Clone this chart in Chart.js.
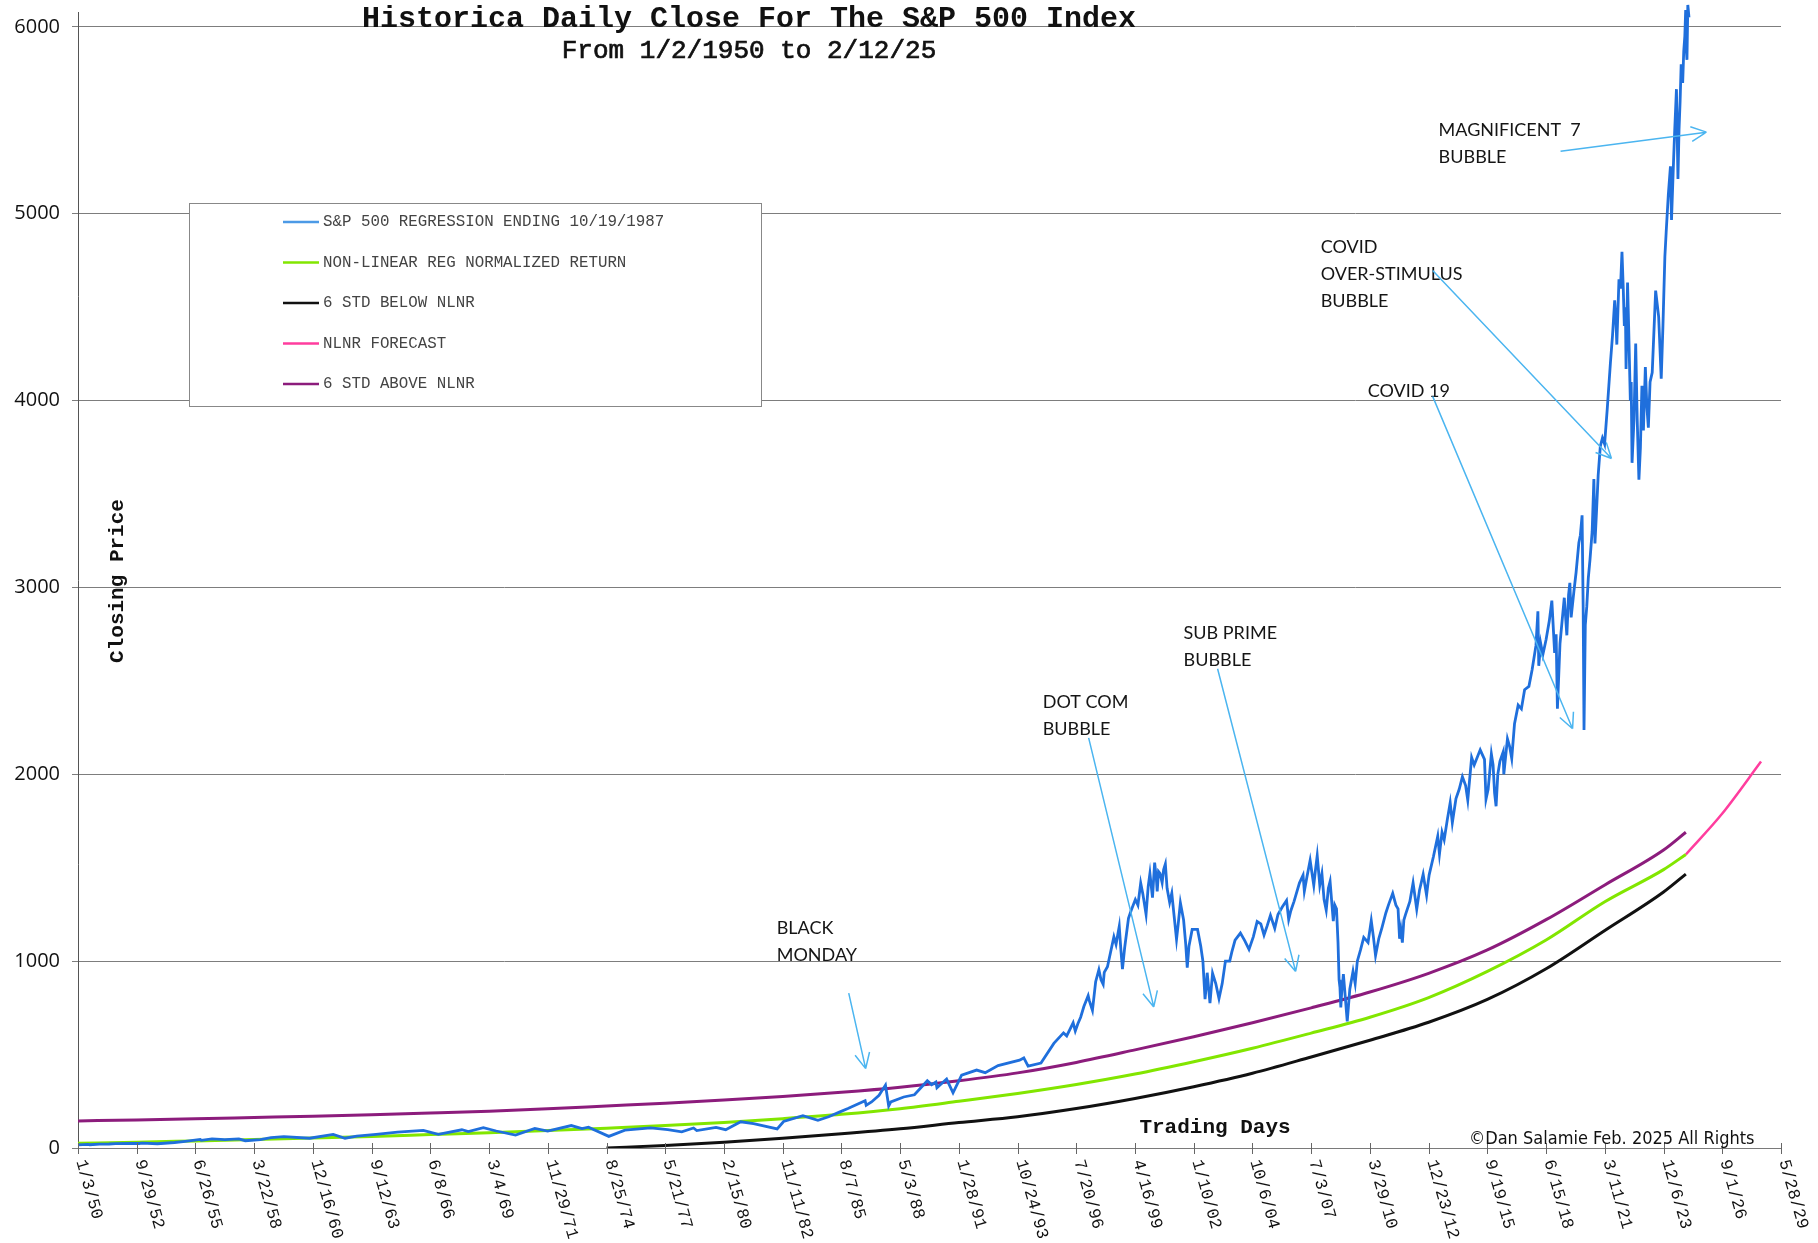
<!DOCTYPE html>
<html>
<head>
<meta charset="utf-8">
<script src="https://cdn.jsdelivr.net/npm/chart.js@4.4.1/dist/chart.umd.min.js"></script>
<style>
  html, body { margin: 0; padding: 0; background: #fff; }
  #wrap { position: relative; width: 1818px; height: 1243px; }
</style>
</head>
<body>
<div id="wrap"><canvas id="chart"></canvas></div>
<script>
// ============ DATA ============

// x axis is trading days; one tick every 690 trading days
const DAYS_PER_TICK = 690;
const DAYS_PER_YEAR = 252;

const tickLabels = ['1/3/50', '9/29/52', '6/26/55', '3/22/58', '12/16/60', '9/12/63', '6/8/66', '3/4/69',
    '11/29/71', '8/25/74', '5/21/77', '2/15/80', '11/11/82', '8/7/85', '5/3/88', '1/28/91', '10/24/93',
    '7/20/96', '4/16/99', '1/10/02', '10/6/04', '7/3/07', '3/29/10', '12/23/12', '9/19/15', '6/15/18',
    '3/11/21', '12/6/23', '9/1/26', '5/28/29'];

const yTicks = [0, 1000, 2000, 3000, 4000, 5000, 6000];

// S&P 500 close (decimal year, close)
const spxYear = [1950.00, 1950.45, 1950.55, 1951.00, 1951.45, 1951.75, 1952.50, 1952.85, 1953.00, 1953.70,
    1954.50, 1955.00, 1955.70, 1955.75, 1956.25, 1956.85, 1957.50, 1957.80, 1958.50, 1959.00, 1959.60,
    1960.80, 1961.90, 1962.45, 1963.00, 1963.90, 1964.90, 1966.10, 1966.80, 1967.90, 1968.20, 1968.90,
    1969.50, 1970.40, 1971.30, 1971.90, 1973.00, 1973.50, 1973.80, 1974.75, 1975.50, 1976.70, 1977.50,
    1978.15, 1978.70, 1978.85, 1979.75, 1980.20, 1980.90, 1981.50, 1982.60, 1982.90, 1983.80, 1984.50,
    1985.00, 1985.50, 1985.90, 1986.70, 1986.75, 1987.00, 1987.35, 1987.65, 1987.80, 1987.90, 1988.50,
    1989.00, 1989.60, 1989.80, 1990.00, 1990.05, 1990.50, 1990.80, 1991.20, 1991.90, 1992.30, 1992.90,
    1993.90, 1994.10, 1994.30, 1994.90, 1995.50, 1995.95, 1996.10, 1996.40, 1996.50, 1996.62, 1996.75,
    1996.90, 1997.10, 1997.15, 1997.30, 1997.45, 1997.60, 1997.70, 1997.80, 1997.85, 1998.00, 1998.15,
    1998.30, 1998.40, 1998.55, 1998.62, 1998.70, 1998.80, 1998.98, 1999.10, 1999.30, 1999.42, 1999.55,
    1999.65, 1999.80, 1999.90, 1999.98, 2000.10, 2000.20, 2000.28, 2000.32, 2000.38, 2000.45, 2000.55,
    2000.62, 2000.70, 2000.78, 2000.90, 2001.00, 2001.10, 2001.22, 2001.30, 2001.40, 2001.55, 2001.65,
    2001.72, 2001.80, 2001.95, 2002.20, 2002.35, 2002.45, 2002.55, 2002.60, 2002.65, 2002.78, 2002.90,
    2003.05, 2003.20, 2003.35, 2003.50, 2003.70, 2003.80, 2003.95, 2004.20, 2004.40, 2004.60, 2004.80,
    2004.98, 2005.15, 2005.30, 2005.45, 2005.60, 2005.80, 2005.95, 2006.15, 2006.35, 2006.45, 2006.55,
    2006.70, 2006.95, 2007.12, 2007.18, 2007.30, 2007.45, 2007.62, 2007.70, 2007.78, 2007.90, 2008.00,
    2008.10, 2008.20, 2008.30, 2008.38, 2008.53, 2008.60, 2008.68, 2008.75, 2008.80, 2008.84, 2008.88,
    2008.93, 2008.98, 2009.00, 2009.08, 2009.18, 2009.30, 2009.45, 2009.55, 2009.65, 2009.80, 2009.95,
    2010.15, 2010.30, 2010.40, 2010.50, 2010.65, 2010.80, 2010.98, 2011.10, 2011.30, 2011.45, 2011.55,
    2011.62, 2011.68, 2011.75, 2011.82, 2011.90, 2012.10, 2012.25, 2012.42, 2012.55, 2012.72, 2012.88,
    2012.95, 2013.00, 2013.20, 2013.40, 2013.48, 2013.60, 2013.70, 2013.85, 2013.98, 2014.08, 2014.25,
    2014.40, 2014.55, 2014.70, 2014.80, 2014.98, 2015.10, 2015.38, 2015.50, 2015.58, 2015.65, 2015.75,
    2015.90, 2015.98, 2016.05, 2016.12, 2016.20, 2016.30, 2016.45, 2016.48, 2016.65, 2016.75, 2016.85,
    2016.98, 2017.15, 2017.30, 2017.45, 2017.65, 2017.80, 2017.98, 2018.07, 2018.11, 2018.20, 2018.30,
    2018.45, 2018.60, 2018.72, 2018.85, 2018.92, 2018.98, 2019.10, 2019.30, 2019.42, 2019.50, 2019.56,
    2019.62, 2019.75, 2019.85, 2019.98, 2020.05, 2020.13, 2020.18, 2020.22, 2020.28, 2020.35, 2020.42,
    2020.50, 2020.60, 2020.68, 2020.73, 2020.80, 2020.88, 2020.98, 2021.08, 2021.18, 2021.30, 2021.45,
    2021.55, 2021.65, 2021.70, 2021.75, 2021.85, 2021.92, 2021.99, 2022.05, 2022.10, 2022.15, 2022.18,
    2022.25, 2022.30, 2022.38, 2022.42, 2022.46, 2022.55, 2022.63, 2022.70, 2022.78, 2022.85, 2022.92,
    2022.99, 2023.08, 2023.15, 2023.22, 2023.30, 2023.40, 2023.56, 2023.70, 2023.82, 2023.90, 2023.99,
    2024.05, 2024.15, 2024.25, 2024.30, 2024.40, 2024.45, 2024.53, 2024.60, 2024.65, 2024.70, 2024.75,
    2024.82, 2024.87, 2024.92, 2024.96, 2024.99, 2025.02, 2025.06, 2025.115];

const spxClose = [16.7, 19.4, 17.4, 21.0, 21.3, 23.3, 25.0, 24.2, 26.5, 22.7,
    29.5, 35.7, 45.6, 40.8, 48.5, 45.0, 49.1, 39.0, 45.0, 55.2, 60.7,
    52.3, 72.6, 52.3, 63.1, 72.6, 84.8, 94.1, 73.2, 97.6, 87.7, 108.4,
    91.0, 69.3, 104.6, 90.2, 120.2, 104.3, 111.4, 62.3, 95.2, 107.8, 98.0,
    86.9, 106.9, 93.0, 110.0, 98.2, 140.5, 130.0, 102.4, 142.0, 172.6, 147.8,
    167.0, 192.0, 211.3, 252.9, 229.0, 246.5, 282.0, 336.8, 224.8, 247.0, 273.0,
    285.0, 359.8, 339.0, 353.4, 322.0, 368.9, 295.5, 390.0, 417.1, 403.0, 441.0,
    470.0, 482.0, 438.0, 455.0, 560.0, 615.9, 600.0, 670.0, 626.0, 665.0, 700.0,
    757.0, 815.0, 790.0, 737.0, 890.0, 954.0, 900.0, 876.0, 940.0, 970.0, 1050.0,
    1130.0, 1090.0, 1186.0, 1070.0, 957.0, 1070.0, 1229.0, 1270.0, 1330.0, 1300.0, 1418.0,
    1360.0, 1250.0, 1400.0, 1469.0, 1340.0, 1527.0, 1440.0, 1373.0, 1480.0, 1470.0, 1420.0,
    1490.0, 1520.0, 1390.0, 1315.0, 1364.0, 1250.0, 1117.0, 1200.0, 1312.0, 1220.0, 1090.0,
    965.0, 1080.0, 1170.0, 1170.0, 1080.0, 1000.0, 797.0, 860.0, 938.0, 776.0, 935.0,
    880.0, 800.0, 880.0, 1000.0, 1000.0, 1050.0, 1112.0, 1150.0, 1110.0, 1063.0, 1130.0,
    1212.0, 1200.0, 1140.0, 1190.0, 1245.0, 1176.0, 1250.0, 1290.0, 1325.0, 1223.0, 1270.0,
    1320.0, 1418.0, 1460.0, 1374.0, 1450.0, 1539.0, 1406.0, 1490.0, 1565.0, 1407.0, 1468.0,
    1330.0, 1273.0, 1390.0, 1426.0, 1214.0, 1300.0, 1280.0, 1100.0, 900.0, 860.0, 752.0,
    850.0, 903.0, 931.0, 820.0, 677.0, 850.0, 946.0, 880.0, 1000.0, 1060.0, 1127.0,
    1100.0, 1217.0, 1130.0, 1030.0, 1120.0, 1180.0, 1258.0, 1300.0, 1363.0, 1300.0, 1280.0,
    1120.0, 1170.0, 1099.0, 1220.0, 1250.0, 1320.0, 1419.0, 1278.0, 1380.0, 1465.0, 1353.0,
    1420.0, 1462.0, 1560.0, 1669.0, 1573.0, 1690.0, 1650.0, 1760.0, 1848.0, 1741.0, 1870.0,
    1920.0, 1987.0, 1940.0, 1862.0, 2090.0, 2050.0, 2131.0, 2100.0, 2080.0, 1867.0, 1920.0,
    2109.0, 2050.0, 1900.0, 1829.0, 2000.0, 2070.0, 2120.0, 2000.0, 2190.0, 2150.0, 2085.0,
    2271.0, 2370.0, 2350.0, 2453.0, 2470.0, 2560.0, 2690.0, 2872.0, 2581.0, 2700.0, 2640.0,
    2720.0, 2820.0, 2930.0, 2650.0, 2750.0, 2351.0, 2700.0, 2945.0, 2744.0, 2960.0, 3025.0,
    2840.0, 2980.0, 3080.0, 3240.0, 3280.0, 3386.0, 2900.0, 2237.0, 2800.0, 2900.0, 3050.0,
    3150.0, 3300.0, 3580.0, 3236.0, 3400.0, 3600.0, 3756.0, 3800.0, 3768.0, 3950.0, 4200.0,
    4350.0, 4537.0, 4450.0, 4300.0, 4650.0, 4600.0, 4797.0, 4600.0, 4400.0, 4500.0, 4170.0,
    4632.0, 4400.0, 4000.0, 4100.0, 3667.0, 3900.0, 4305.0, 3900.0, 3577.0, 3750.0, 4080.0,
    3840.0, 4180.0, 3970.0, 3855.0, 4100.0, 4150.0, 4589.0, 4450.0, 4117.0, 4400.0, 4770.0,
    4900.0, 5100.0, 5254.0, 4967.0, 5300.0, 5450.0, 5667.0, 5186.0, 5450.0, 5600.0, 5800.0,
    5700.0, 5870.0, 5950.0, 6090.0, 5880.0, 5824.0, 6118.0, 6051.0];

// regression bands, read at tick positions
const bandTick = [0, 1, 2, 3, 4, 5, 6, 7, 8, 9, 10, 11, 12, 13, 14, 15, 16, 17, 18, 19, 20,
    21, 22, 23, 24, 25, 26, 27, 27.38];
const nlnrUpper = [145, 150, 156, 163, 170, 178, 187, 197, 210, 225, 240, 257, 276, 298, 325, 360,
    402, 458, 525, 595, 670, 750, 835, 935, 1060, 1222, 1408, 1595, 1690];
const nlnrMid = [25, 31, 38, 45, 53, 62, 72, 82, 93, 106, 120, 137, 157, 180, 210, 250,
    292, 340, 396, 462, 534, 615, 700, 805, 945, 1113, 1318, 1490, 1571];

const lowerTick = [9, 10, 11, 12, 13, 14, 15, 16, 17, 18, 19, 20, 21, 22, 23, 24, 25, 26, 27, 27.38];
const nlnrLower = [0, 14, 31, 52, 76, 103, 136, 167, 211, 265, 328, 400, 487, 577, 673, 795,
    959, 1164, 1370, 1466];

const forecastTick = [27.38, 28.0, 28.66];
const forecastVals = [1571, 1790, 2068];

// annotations: text lines, anchor (trading day, close), arrow tail / head
const noteLines = [['MAGNIFICENT  7', 'BUBBLE'], ['COVID', 'OVER-STIMULUS', 'BUBBLE'], ['COVID 19'],
    ['SUB PRIME', 'BUBBLE'], ['DOT COM', 'BUBBLE'], ['BLACK', 'MONDAY']];
const noteAt = [[15987, 5447], [14601, 4821], [15153, 4050], [12990, 2755], [11335, 2385], [8210, 1177]];
const arrowFrom = [[17420, 5335], [15917, 4697], [15917, 4023], [13390, 2565], [11875, 2195], [9056, 829]];
const arrowTo = [[19134, 5437], [18018, 3690], [17561, 2244], [14307, 945], [12640, 755], [9255, 425]];

// ============ CHART ============

const MONO = '"Liberation Mono", "DejaVu Sans Mono", monospace';
const NOTE_FONT = '18px Lato, "Open Sans", sans-serif';

const toPoints = (xs, ys, scale) => xs.map((x, i) => ({ x: x * scale, y: ys[i] }));

const spxPoints = spxYear.map((yr, i) => ({ x: (yr - 1950) * DAYS_PER_YEAR, y: spxClose[i] }));

const overlay = {
    id: 'overlay',
    afterDatasetsDraw(chart) {
        drawLegendBox(chart);
        drawNotes(chart);
    },
    afterDraw(chart) {
        drawXLabels(chart);
        drawTexts(chart);
    }
};

new Chart(document.getElementById('chart'), {
    type: 'line',
    data: {
        datasets: [{
            label: 'S&P 500 REGRESSION ENDING 10/19/1987',
            data: spxPoints,
            borderColor: '#1f6fdc',
            legendColor: '#4c9ae6',
            borderWidth: 2.8,
            tension: 0,
            clip: false,
        }, {
            label: 'NON-LINEAR REG NORMALIZED RETURN',
            data: toPoints(bandTick, nlnrMid, DAYS_PER_TICK),
            borderColor: '#82e600',
            borderWidth: 3,
            cubicInterpolationMode: 'monotone',
        }, {
            label: '6 STD BELOW NLNR',
            data: toPoints(lowerTick, nlnrLower, DAYS_PER_TICK),
            borderColor: '#111111',
            borderWidth: 3,
            cubicInterpolationMode: 'monotone',
        }, {
            label: 'NLNR FORECAST',
            data: toPoints(forecastTick, forecastVals, DAYS_PER_TICK),
            borderColor: '#ff3d9e',
            borderWidth: 2.5,
            cubicInterpolationMode: 'monotone',
        }, {
            label: '6 STD ABOVE NLNR',
            data: toPoints(bandTick, nlnrUpper, DAYS_PER_TICK),
            borderColor: '#8c1c7c',
            borderWidth: 3,
            cubicInterpolationMode: 'monotone',
        }]
    },
    options: {
        responsive: true,
        maintainAspectRatio: false,
        animation: false,
        layout: { padding: { top: 12, right: 37, left: 0, bottom: 0 } },
        elements: { point: { radius: 0 } },
        plugins: {
            legend: { display: false },
            tooltip: { enabled: false }
        },
        scales: {
            x: {
                type: 'linear',
                min: 0,
                max: 29 * DAYS_PER_TICK,
                afterBuildTicks: s => { s.ticks = tickLabels.map((_, i) => ({ value: i * DAYS_PER_TICK })); },
                afterFit: s => { s.height = 95; },
                ticks: { display: false },
                grid: { display: false },
                border: { color: '#7a7a7a', width: 1 }
            },
            y: {
                min: 0,
                max: 6080,
                afterBuildTicks: s => { s.ticks = yTicks.map(v => ({ value: v })); },
                afterFit: s => {
                    s.width = 78;
                    s.paddingTop = 0;
                    s.paddingBottom = 0;
                },
                ticks: {
                    font: { family: '"Open Sans", sans-serif', size: 20 },
                    color: '#111',
                    padding: 12,
                    callback: v => String(v)
                },
                grid: { color: '#7d7d7d', lineWidth: 1, tickLength: 6 },
                border: { color: '#555', width: 1 }
            }
        }
    },
    plugins: [overlay]
});

// ============ HELPERS ============

function drawLegendBox(chart) {
    const ctx = chart.ctx;
    const box = { x: 189, y: 203, w: 572, h: 203 };
    ctx.save();
    ctx.fillStyle = '#fff';
    ctx.fillRect(box.x, box.y, box.w, box.h);
    ctx.strokeStyle = '#888';
    ctx.lineWidth = 1;
    ctx.strokeRect(box.x + 0.5, box.y + 0.5, box.w, box.h);

    ctx.font = '15.8px ' + MONO;
    ctx.textBaseline = 'middle';
    ctx.textAlign = 'left';
    chart.data.datasets.forEach((ds, i) => {
        const y = 222 + i * 40.5;
        ctx.strokeStyle = ds.legendColor || ds.borderColor;
        ctx.lineWidth = 2.5;
        ctx.beginPath();
        ctx.moveTo(283, y);
        ctx.lineTo(319, y);
        ctx.stroke();
        ctx.fillStyle = '#444';
        ctx.fillText(ds.label, 323, y);
    });
    ctx.restore();
}

function drawNotes(chart) {
    const ctx = chart.ctx;
    const xs = chart.scales.x, ys = chart.scales.y;
    ctx.save();
    ctx.font = NOTE_FONT;
    ctx.fillStyle = '#151515';
    ctx.textBaseline = 'middle';
    ctx.textAlign = 'left';
    noteLines.forEach((lines, i) => {
        const x = xs.getPixelForValue(noteAt[i][0]);
        const y = ys.getPixelForValue(noteAt[i][1]);
        lines.forEach((t, j) => ctx.fillText(t, x, y + j * 27));
    });

    ctx.strokeStyle = '#4bb5f0';
    ctx.lineWidth = 1.5;
    arrowFrom.forEach((f, i) => {
        const x1 = xs.getPixelForValue(f[0]), y1 = ys.getPixelForValue(f[1]);
        const x2 = xs.getPixelForValue(arrowTo[i][0]), y2 = ys.getPixelForValue(arrowTo[i][1]);
        const a = Math.atan2(y2 - y1, x2 - x1);
        ctx.beginPath();
        ctx.moveTo(x1, y1);
        ctx.lineTo(x2, y2);
        for (const d of [0.45, -0.45]) {
            ctx.moveTo(x2, y2);
            ctx.lineTo(x2 - 17 * Math.cos(a + d), y2 - 17 * Math.sin(a + d));
        }
        ctx.stroke();
    });
    ctx.restore();
}

function drawXLabels(chart) {
    const ctx = chart.ctx;
    const xs = chart.scales.x;
    const axisY = chart.chartArea.bottom;
    ctx.save();
    ctx.strokeStyle = '#666';
    ctx.lineWidth = 1;
    ctx.font = '17px ' + MONO;
    ctx.fillStyle = '#111';
    ctx.textAlign = 'left';
    ctx.textBaseline = 'middle';
    xs.ticks.forEach((t, i) => {
        const px = Math.round(xs.getPixelForValue(t.value)) + 0.5;
        ctx.beginPath();
        ctx.moveTo(px, axisY - 5);
        ctx.lineTo(px, axisY + 6);
        ctx.stroke();
        ctx.save();
        ctx.translate(px + 2, axisY + 12);
        ctx.rotate(74 * Math.PI / 180);
        ctx.fillText(tickLabels[i], 0, 0);
        ctx.restore();
    });
    ctx.restore();
}

function drawTexts(chart) {
    const ctx = chart.ctx;
    ctx.save();
    ctx.fillStyle = '#111';
    ctx.strokeStyle = '#111';
    ctx.textAlign = 'center';
    ctx.textBaseline = 'alphabetic';
    ctx.font = 'bold 30px ' + MONO;
    ctx.fillText('Historica Daily Close For The S&P 500 Index', 749, 27);
    ctx.font = '26px ' + MONO;
    ctx.lineWidth = 0.7;
    ctx.fillText('From 1/2/1950 to 2/12/25', 749, 58);
    ctx.strokeText('From 1/2/1950 to 2/12/25', 749, 58);

    ctx.textBaseline = 'middle';
    ctx.font = 'bold 21px ' + MONO;
    ctx.fillText('Trading Days', 1215, 1128);

    ctx.save();
    ctx.translate(118, 581);
    ctx.rotate(-Math.PI / 2);
    ctx.fillText('Closing Price', 0, 0);
    ctx.restore();

    ctx.textAlign = 'left';
    ctx.font = '18px "Liberation Sans Narrow", "DejaVu Sans Condensed", Roboto, sans-serif';
    ctx.fillText('\u00A9Dan Salamie Feb. 2025 All Rights', 1469, 1139);
    ctx.restore();
}
</script>
</body>
</html>
